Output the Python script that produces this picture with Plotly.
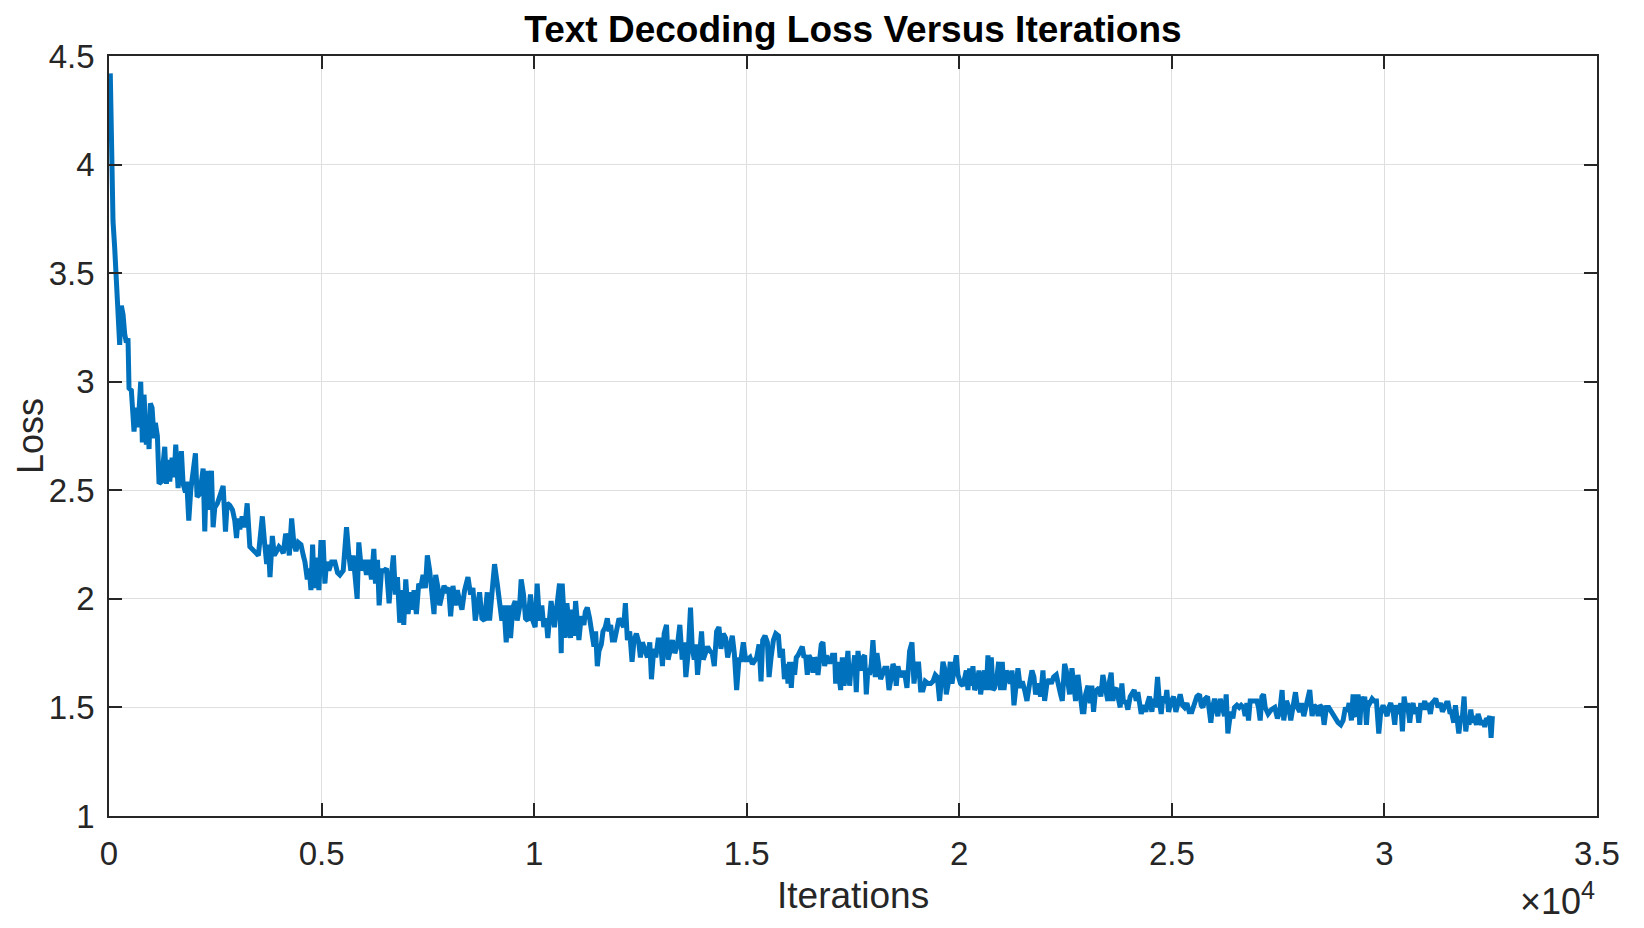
import plotly.graph_objects as go

# ---- data ----
iterations = [
    30, 50, 70, 94, 133, 173, 212, 251, 290, 330, 369, 408, 447, 471, 526, 589, 628, 683, 746, 785,
    824, 879, 918, 942, 973, 1013, 1060, 1091, 1138, 1177, 1232, 1272, 1311, 1350, 1389, 1429, 1484, 1531, 1570, 1625,
    1664, 1703, 1743, 1798, 1829, 1876, 1923, 1978, 2033, 2072, 2120, 2174, 2214, 2253, 2292, 2331, 2371, 2410, 2449, 2488,
    2551, 2606, 2685, 2740, 2779, 2842, 2905, 2959, 2999, 3038, 3077, 3132, 3195, 3250, 3313,
    3513, 3552, 3607, 3654, 3709, 3748, 3787, 3842, 3889, 3944, 3998, 4045, 4100, 4155, 4202, 4241, 4296, 4351, 4397, 4452,
    4515, 4570, 4609, 4664, 4710, 4750, 4789, 4828, 4883, 4937, 4984, 5039, 5078, 5117, 5172, 5235, 5313, 5376, 5430, 5509,
    5587, 5642, 5689, 5743, 5783, 5837, 5876, 5939, 6002, 6056, 6111, 6174, 6229, 6268, 6315, 6354, 6409, 6471, 6526, 6588,
    6643, 6690, 6737, 6784, 6839, 6894, 6933, 6980, 7035, 7089, 7128, 7175, 7230, 7285, 7332, 7387, 7441, 7488, 7543, 7598,
    7645, 7684, 7739, 7778, 7833, 7880, 7934, 7989, 8036, 8091, 8146, 8193, 8247, 8302, 8365, 8443, 8506, 8560, 8615, 8662,
    8717, 8772, 8834, 8897, 8952, 9014, 9069, 9132, 9186, 9241, 9288, 9343, 9398, 9445, 9499, 9554, 9601, 9656, 9695, 9750,
    9797, 9852, 9914, 9969, 10024, 10071, 10125, 10180, 10227, 10282, 10321, 10399, 10478,
    10558, 10597, 10637, 10660, 10700, 10731, 10770, 10810, 10857, 10896, 10935, 10975, 11014, 11053, 11108, 11171, 11203, 11250, 11305, 11360,
    11407, 11446, 11486, 11525, 11580, 11619, 11674, 11721, 11761, 11800, 11839, 11894, 11949, 11996, 12051, 12106, 12146, 12193, 12248, 12303,
    12350, 12405, 12460, 12500, 12547, 12602, 12665, 12720, 12759, 12814, 12861, 12916, 12971, 13018, 13058, 13113, 13152, 13207, 13254, 13309,
    13372, 13427, 13482, 13529, 13568, 13623, 13678, 13718, 13765, 13804, 13844, 13899, 13938, 13977, 14032, 14079, 14134, 14189, 14237, 14292,
    14347, 14394, 14449, 14504, 14551, 14606, 14661, 14708, 14763, 14818, 14865, 14920, 14975, 15023, 15078, 15133, 15180, 15235, 15290, 15337,
    15376, 15431, 15486, 15526, 15573, 15628, 15683, 15746, 15785, 15840, 15887, 15942,
    15970, 16009, 16049, 16088, 16127, 16166, 16206, 16260, 16307, 16347, 16386, 16425, 16464, 16519, 16558, 16597, 16637, 16676, 16715, 16754,
    16793, 16833, 16872, 16911, 16966, 17013, 17068, 17092, 17131, 17170, 17209, 17249, 17288, 17327, 17381, 17421, 17460, 17499, 17538, 17577,
    17617, 17656, 17695, 17734, 17774, 17813, 17852, 17891, 17930, 17969, 18024, 18063, 18103, 18150, 18189, 18244, 18299, 18346, 18401, 18440,
    18479, 18518, 18557, 18612, 18652, 18714, 18769, 18832, 18887, 18934, 18989, 19044, 19091, 19146, 19200, 19263, 19326, 19381, 19436, 19483,
    19537, 19577, 19616, 19655, 19694, 19749, 19788, 19828, 19875, 19929, 19969, 20031, 20086, 20125, 20165, 20204, 20243, 20282, 20321, 20361,
    20416, 20463, 20502, 20557, 20596, 20635, 20674, 20713, 20753, 20792, 20831, 20886, 20925, 20972, 21011, 21051, 21105, 21160, 21200, 21239,
    21286, 21341, 21380, 21435, 21482, 21537, 21592, 21654, 21709, 21756, 21795, 21850, 21913, 21968, 22007, 22062, 22109, 22164, 22219, 22281,
    22336, 22383, 22423, 22477, 22517, 22556, 22595, 22650, 22697, 22736, 22791, 22846, 22893, 22932, 22971, 23026,
    23079, 23118, 23158, 23197, 23236, 23291, 23330, 23377, 23416, 23456, 23495, 23534, 23573, 23612, 23652, 23691, 23730, 23785, 23824, 23863,
    23918, 23965, 24020, 24059, 24114, 24161, 24200, 24240, 24279, 24334, 24388, 24428, 24475, 24530, 24569, 24608, 24663, 24710, 24749, 24788,
    24843, 24882, 24922, 24976, 25039, 25094, 25141, 25196, 25251, 25298, 25353, 25408, 25470, 25533, 25588, 25651, 25690, 25729, 25784, 25839,
    25878, 25917, 25956, 26004, 26043, 26082, 26137, 26192, 26239, 26278, 26317, 26357, 26396, 26435, 26474, 26529, 26584, 26631, 26686, 26725,
    26764, 26803, 26842, 26897, 26944, 26999, 27038, 27078, 27117, 27156, 27195,
    27264, 27342, 27421, 27483, 27538, 27593, 27632, 27695, 27750, 27797, 27852, 27907, 27954, 28009, 28048, 28103, 28150, 28205, 28244, 28299,
    28346, 28401, 28440, 28479, 28534, 28581, 28636, 28691, 28753, 28816, 28910, 28973, 29028, 29083, 29130, 29169, 29224, 29263, 29302, 29341,
    29381, 29420, 29459, 29498, 29537, 29577, 29616, 29655, 29710, 29757, 29812, 29867, 29914, 29969, 30008, 30063, 30102, 30149, 30204, 30243,
    30282, 30337, 30384, 30423, 30463, 30502, 30541, 30596, 30635, 30674, 30714, 30768, 30808, 30855, 30894, 30949, 30988, 31027, 31082, 31121,
    31168, 31207, 31262, 31317, 31364, 31403, 31458, 31498, 31537, 31576, 31631, 31670, 31717, 31749, 31795, 31835, 31874, 31913, 31952, 31991,
    32031, 32070, 32109, 32164, 32203, 32243, 32282, 32321, 32360, 32399, 32439, 32478, 32509, 32540,
]

loss = [
    4.42, 4.10, 3.88, 3.74, 3.62, 3.49, 3.37, 3.17, 3.35, 3.31, 3.22, 3.18, 3.20, 2.97, 2.96, 2.77, 2.88, 2.79, 3.00, 2.72,
    2.94, 2.71, 2.79, 2.69, 2.90, 2.88, 2.74, 2.81, 2.75, 2.53, 2.54, 2.65, 2.70, 2.53, 2.64, 2.54, 2.65, 2.56, 2.71, 2.51,
    2.60, 2.68, 2.53, 2.49, 2.54, 2.36, 2.50, 2.60, 2.67, 2.47, 2.48, 2.54, 2.60, 2.31, 2.59, 2.41, 2.50, 2.59, 2.33, 2.42,
    2.44, 2.47, 2.52, 2.31, 2.44, 2.43, 2.41, 2.36, 2.28, 2.37, 2.32, 2.38, 2.33, 2.44, 2.24,
    2.20, 2.30, 2.38, 2.27, 2.16, 2.25, 2.10, 2.29, 2.20, 2.22, 2.24, 2.23, 2.21, 2.30, 2.27, 2.20, 2.37, 2.25, 2.22, 2.26,
    2.25, 2.20, 2.17, 2.09, 2.14, 2.04, 2.25, 2.05, 2.19, 2.04, 2.26, 2.26, 2.07, 2.17, 2.13, 2.17, 2.17, 2.12, 2.11, 2.13,
    2.33, 2.20, 2.13, 2.20, 2.10, 2.00, 2.26, 2.13, 2.18, 2.11, 2.18, 2.09, 2.23, 2.07, 2.18, 1.97, 2.13, 2.13, 2.14, 1.98,
    2.11, 2.20, 2.02, 2.10, 1.89, 2.04, 1.88, 2.09, 1.93, 2.03, 1.95, 2.04, 1.93, 2.07, 2.05, 2.11, 2.05, 2.20, 2.13, 2.04,
    1.93, 2.11, 2.05, 1.97, 2.02, 2.06, 2.04, 2.05, 1.92, 2.06, 1.97, 2.04, 1.99, 1.95, 2.04, 2.10, 2.02, 2.05, 1.90, 1.96,
    2.03, 1.91, 1.90, 2.03, 1.90, 2.04, 2.16, 2.07, 1.99, 1.90, 1.97, 1.80, 1.97, 1.82, 1.96, 1.99, 1.90, 1.96, 2.09, 2.02,
    1.91, 1.90, 2.02, 1.90, 1.87, 2.07, 1.90, 1.97, 1.87, 1.91, 1.82, 1.99, 1.87,
    1.99, 2.07, 1.75, 2.07, 1.93, 1.82, 1.98, 1.91, 1.82, 1.95, 1.83, 1.99, 1.87, 1.81, 1.92, 1.88, 1.94, 1.96, 1.91, 1.85,
    1.78, 1.85, 1.69, 1.76, 1.79, 1.85, 1.87, 1.91, 1.85, 1.88, 1.81, 1.81, 1.88, 1.91, 1.89, 1.87, 1.98, 1.81, 1.85, 1.71,
    1.81, 1.84, 1.80, 1.73, 1.80, 1.76, 1.73, 1.80, 1.63, 1.77, 1.73, 1.81, 1.81, 1.69, 1.84, 1.88, 1.72, 1.77, 1.81, 1.75,
    1.79, 1.88, 1.72, 1.80, 1.64, 1.75, 1.96, 1.78, 1.72, 1.79, 1.65, 1.76, 1.85, 1.72, 1.75, 1.78, 1.76, 1.75, 1.69, 1.85,
    1.87, 1.77, 1.84, 1.82, 1.73, 1.79, 1.83, 1.75, 1.58, 1.72, 1.72, 1.80, 1.72, 1.72, 1.73, 1.70, 1.71, 1.73, 1.79, 1.62,
    1.81, 1.83, 1.80, 1.64, 1.73, 1.81, 1.84, 1.83, 1.73, 1.77, 1.63, 1.70,
    1.61, 1.71, 1.59, 1.71, 1.65, 1.73, 1.74, 1.77, 1.78, 1.73, 1.74, 1.65, 1.74, 1.72, 1.66, 1.73, 1.71, 1.65, 1.74, 1.79,
    1.80, 1.69, 1.74, 1.71, 1.71, 1.74, 1.74, 1.61, 1.71, 1.64, 1.58, 1.73, 1.60, 1.65, 1.76, 1.60, 1.70, 1.67, 1.74, 1.57,
    1.76, 1.70, 1.67, 1.73, 1.74, 1.56, 1.68, 1.65, 1.70, 1.81, 1.64, 1.75, 1.68, 1.63, 1.65, 1.68, 1.68, 1.58, 1.64, 1.70,
    1.68, 1.60, 1.69, 1.64, 1.66, 1.66, 1.59, 1.76, 1.80, 1.61, 1.70, 1.70, 1.58, 1.58, 1.62, 1.61, 1.61, 1.62, 1.65, 1.64,
    1.53, 1.65, 1.71, 1.68, 1.56, 1.62, 1.71, 1.61, 1.68, 1.74, 1.65, 1.61, 1.60, 1.65, 1.67, 1.58, 1.68, 1.60, 1.69, 1.58,
    1.61, 1.67, 1.56, 1.64, 1.67, 1.58, 1.74, 1.58, 1.73, 1.58, 1.59, 1.64, 1.71, 1.58, 1.71, 1.58, 1.67, 1.64, 1.61, 1.67,
    1.51, 1.61, 1.68, 1.59, 1.62, 1.58, 1.53, 1.61, 1.67, 1.64, 1.56, 1.61, 1.55, 1.67, 1.53, 1.61, 1.63, 1.61, 1.64, 1.65,
    1.59, 1.56, 1.53, 1.70, 1.67, 1.59, 1.56, 1.68, 1.61, 1.53, 1.65, 1.55, 1.48, 1.48, 1.56, 1.60,
    1.52, 1.60, 1.48, 1.56, 1.58, 1.59, 1.55, 1.65, 1.61, 1.55, 1.53, 1.62, 1.66, 1.53, 1.58, 1.59, 1.56, 1.50, 1.61, 1.52,
    1.53, 1.49, 1.55, 1.56, 1.58, 1.53, 1.57, 1.52, 1.47, 1.51, 1.48, 1.52, 1.55, 1.48, 1.54, 1.50, 1.64, 1.52, 1.47, 1.55,
    1.52, 1.58, 1.48, 1.52, 1.55, 1.48, 1.51, 1.56, 1.51, 1.50, 1.52, 1.48, 1.48, 1.53, 1.55, 1.56, 1.51, 1.50, 1.54, 1.55,
    1.48, 1.43, 1.50, 1.54, 1.49, 1.46, 1.54, 1.50, 1.46, 1.56, 1.38, 1.44, 1.48, 1.45, 1.50, 1.51, 1.50, 1.51, 1.50, 1.46,
    1.52, 1.44, 1.53, 1.53, 1.53, 1.53, 1.50, 1.44, 1.55, 1.56, 1.50,
    1.47, 1.49, 1.50, 1.45, 1.48, 1.58, 1.44, 1.53, 1.50, 1.44, 1.52, 1.57, 1.50, 1.48, 1.52, 1.46, 1.50, 1.54, 1.58, 1.46,
    1.51, 1.50, 1.46, 1.51, 1.50, 1.42, 1.50, 1.50, 1.48, 1.45, 1.43, 1.42, 1.44, 1.50, 1.48, 1.52, 1.44, 1.56, 1.47, 1.46,
    1.56, 1.42, 1.55, 1.50, 1.55, 1.42, 1.53, 1.52, 1.54, 1.53, 1.53, 1.38, 1.48, 1.51, 1.48, 1.46, 1.50, 1.52, 1.48, 1.42,
    1.51, 1.47, 1.52, 1.39, 1.55, 1.50, 1.52, 1.43, 1.50, 1.52, 1.47, 1.50, 1.43, 1.52, 1.49, 1.53, 1.49, 1.52, 1.47, 1.52,
    1.53, 1.54, 1.50, 1.52, 1.48, 1.50, 1.52, 1.52, 1.48, 1.48, 1.43, 1.51, 1.42, 1.38, 1.45, 1.46, 1.55, 1.39, 1.45, 1.42,
    1.49, 1.43, 1.46, 1.42, 1.47, 1.45, 1.42, 1.44, 1.41, 1.45, 1.44, 1.46, 1.36, 1.46,
]

x_tickvals = [0, 5000, 10000, 15000, 20000, 25000, 30000, 35000]
x_ticktext = ["0", "0.5", "1", "1.5", "2", "2.5", "3", "3.5"]
y_tickvals = [1, 1.5, 2, 2.5, 3, 3.5, 4, 4.5]
y_ticktext = ["1", "1.5", "2", "2.5", "3", "3.5", "4", "4.5"]

FONT = "Liberation Sans, Arial, Helvetica, sans-serif"
AXC = "#262626"

fig = go.Figure()
fig.add_trace(go.Scatter(
    x=iterations, y=loss, mode="lines",
    line=dict(color="#0072BD", width=5),
    showlegend=False, hoverinfo="skip",
))

axis_common = dict(
    showline=True, linecolor=AXC, linewidth=1.5, mirror="ticks",
    ticks="inside", ticklen=13, tickwidth=1.5, tickcolor=AXC,
    showgrid=True, gridcolor="#dfdfdf", gridwidth=1,
    zeroline=False,
    tickfont=dict(family=FONT, size=33, color=AXC),
)

fig.update_layout(
    width=1644, height=928,
    margin=dict(l=101, r=55, t=48, b=120),
    paper_bgcolor="white", plot_bgcolor="white",
    xaxis=dict(range=[0, 35000], tickvals=x_tickvals, ticktext=x_ticktext,
               ticklabelstandoff=8, **axis_common),
    yaxis=dict(range=[1, 4.5], tickvals=y_tickvals, ticktext=y_ticktext,
               ticklabelstandoff=6, **axis_common),
    title=dict(
        text="<b>Text Decoding Loss Versus Iterations</b>",
        font=dict(family=FONT, size=37, color="black"),
        x=0.5, xref="paper", xanchor="center",
        y=1 - 21 / 928, yref="container", yanchor="middle",
    ),
    annotations=[
        dict(text="Iterations", xref="paper", yref="paper", x=0.5, y=0,
             xanchor="center", yanchor="middle", yshift=-79, showarrow=False,
             font=dict(family=FONT, size=37, color=AXC)),
        dict(text="Loss", xref="paper", yref="paper", x=0, y=0.5,
             xanchor="center", yanchor="middle", xshift=-79, textangle=-90,
             showarrow=False, font=dict(family=FONT, size=36, color=AXC)),
        dict(text="×10<sup>4</sup>", xref="paper", yref="paper", x=1, y=0,
             xanchor="right", yanchor="top", yshift=-58, showarrow=False,
             font=dict(family=FONT, size=36, color=AXC)),
    ],
)

fig.write_html("out.html")
